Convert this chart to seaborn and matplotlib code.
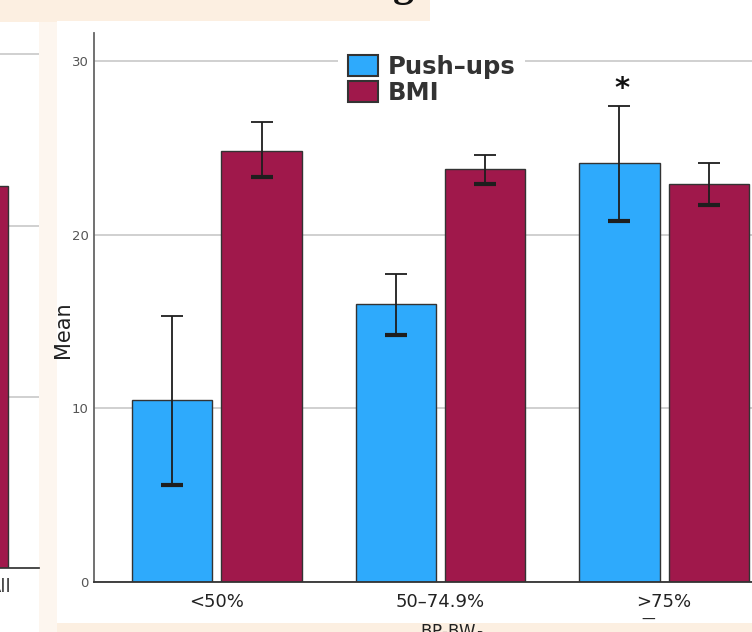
import matplotlib
matplotlib.use("Agg")
import matplotlib.pyplot as plt
from matplotlib.patches import Patch, Rectangle
import pandas as pd
import seaborn as sns

# Mean values with 95% CI bounds
groups = ["<50%", "50–74.9%", ">75%"]
series = ["Push–ups", "BMI"]
pushups_mean = [10.5, 16.0, 24.1]
pushups_low = [5.6, 14.2, 20.8]
pushups_high = [15.3, 17.7, 27.4]
bmi_mean = [24.8, 23.8, 22.9]
bmi_low = [23.3, 22.9, 21.7]
bmi_high = [26.5, 24.6, 24.1]
star_group = ">75%"

# fragment of the neighbouring chart on the left edge of the slide
left_labels = ["All"]
left_bmi = [22.3]

colors = {"Push–ups": "#2eaafc", "BMI": "#a0184b"}
W, H = 752, 632

sns.set_theme(style="white")
plt.rcParams["font.family"] = ["DejaVu Sans"]

df = pd.DataFrame({
    "group": groups * 2,
    "series": [series[0]] * 3 + [series[1]] * 3,
    "mean": pushups_mean + bmi_mean,
    "low": pushups_low + bmi_low,
    "high": pushups_high + bmi_high,
})

fig = plt.figure(figsize=(W / 100, H / 100), dpi=100)
fig.patch.set_facecolor("#fcefe1")


def px_rect(x0, y0, x1, y1, color):
    fig.add_artist(Rectangle((x0 / W, 1 - y1 / H), (x1 - x0) / W, (y1 - y0) / H,
                             transform=fig.transFigure, facecolor=color,
                             edgecolor="none", zorder=-10))


# slide background pieces
px_rect(430, 0, W, 22, "#ffffff")
px_rect(39, 22, 57, H, "#fdf6ef")
px_rect(0, 22, 39, H, "#ffffff")
px_rect(57, 21, W, 623, "#ffffff")
fig.text(403 / W, 1 + 4 / H, "g", family="Liberation Serif", fontsize=30,
         fontweight="bold", ha="center", va="baseline", color="#111")

# === main chart === #
ax = fig.add_axes([94 / W, 1 - 582 / H, 693 / W, 549 / H])
ax.set_facecolor("none")
sns.barplot(data=df, x="group", y="mean", hue="series", hue_order=series,
            order=groups, palette=colors, saturation=1, width=0.8, gap=0.1,
            errorbar=None, edgecolor="#333333", linewidth=1.0, legend=False,
            ax=ax, zorder=2)

bars = ax.patches
for i, name in enumerate(series):
    sub = df[df["series"] == name].set_index("group").loc[groups]
    xs = [p.get_x() + p.get_width() / 2 for p in bars[i * 3:(i + 1) * 3]]
    eb = ax.errorbar(xs, sub["mean"], yerr=[sub["mean"] - sub["low"], sub["high"] - sub["mean"]],
                     fmt="none", ecolor="#1e1e1e", elinewidth=1.3, capsize=8,
                     capthick=1.3, zorder=3)
    eb[1][0].set_markeredgewidth(3.0)  # lower caps are drawn heavier

star_bar = bars[groups.index(star_group)]
ax.text(star_bar.get_x() + star_bar.get_width() / 2 + 0.01, 27.9, "*", fontsize=21,
        fontweight="bold", ha="center", va="baseline", color="#111")

ax.set_xlim(-0.55, 2.55)
ax.set_ylim(0, 31.6)
ax.set_yticks([0, 10, 20, 30])
ax.yaxis.grid(True, color="#c8c8c8", linewidth=1.2, zorder=0)
ax.set_axisbelow(True)
for side in ("top", "right"):
    ax.spines[side].set_visible(False)
ax.spines["left"].set_color("#666666")
ax.spines["left"].set_linewidth(1.3)
ax.spines["bottom"].set_color("#333333")
ax.spines["bottom"].set_linewidth(1.3)
ax.tick_params(axis="y", length=0, pad=4, labelsize=9.5, labelcolor="#555555")
ax.tick_params(axis="x", length=0, pad=8, labelsize=13, labelcolor="#222222")
ax.set_xlabel("")
ax.set_ylabel("Mean", fontsize=15, color="#222222")
ax.yaxis.set_label_coords(-0.031, 0.46)

handles = [Patch(facecolor=colors[s], edgecolor="#333333", linewidth=1.5) for s in series]
leg = ax.legend(handles, series, loc="upper left", bbox_to_anchor=(338 / W, 1 - 45 / H),
                bbox_transform=fig.transFigure, frameon=True, framealpha=1,
                facecolor="white", edgecolor="none", fancybox=False,
                prop={"weight": "bold", "size": 17.5}, handlelength=1.25,
                handleheight=0.95, handletextpad=0.4, labelspacing=0.08,
                borderpad=0.4, borderaxespad=0)
for t in leg.get_texts():
    t.set_color("#333333")

# the "≥" underline under >75% and the clipped axis title
fig.text(648 / W, 1 - 620 / H, "—", fontsize=10, ha="center", va="center", color="#222")
fig.text(452 / W, 1 - 622 / H, "BP-BW$_R$", fontsize=12, ha="center", va="top", color="#222")

# === left fragment chart === #
scale = 223.5
ax2 = fig.add_axes([(39 - 300) / W, 1 - 568 / H, 300 / W, 541 / H])
ax2.set_facecolor("none")
left_df = pd.DataFrame({"group": left_labels, "series": [series[1]], "mean": left_bmi})
sns.barplot(data=left_df, x="group", y="mean", hue="series", hue_order=series,
            palette=colors, saturation=1, width=0.8, gap=0.1, errorbar=None,
            edgecolor="#333333", linewidth=1.0, legend=False, ax=ax2, zorder=2)
right_edge = max(p.get_x() + p.get_width() for p in ax2.patches)
ax2.set_xlim(right_edge - 269 / scale, right_edge + 31 / scale)
ax2.set_ylim(0, 31.6)
ax2.set_yticks([10, 20, 30])
ax2.yaxis.grid(True, color="#c8c8c8", linewidth=1.2)
ax2.set_axisbelow(True)
for side in ("top", "right", "left"):
    ax2.spines[side].set_visible(False)
ax2.spines["bottom"].set_color("#333333")
ax2.set_xticks([right_edge - 8 / scale], left_labels)
ax2.tick_params(axis="x", length=0, pad=7, labelsize=13, labelcolor="#333333")
ax2.tick_params(axis="y", length=0, labelleft=False)
ax2.set_xlabel("")
ax2.set_ylabel("")

fig.savefig("out.png", dpi=100)
